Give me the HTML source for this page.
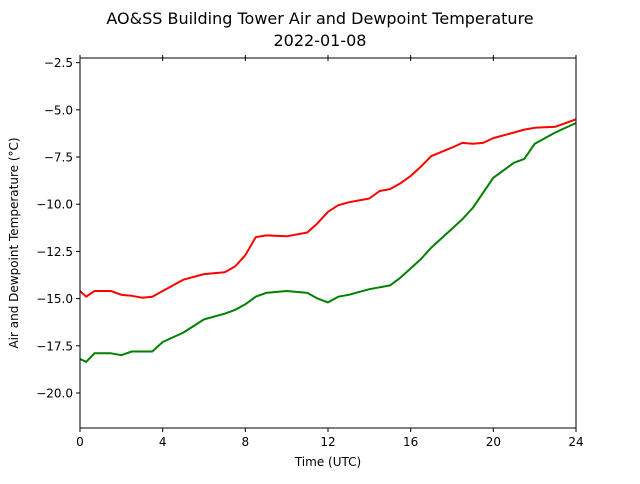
<!DOCTYPE html>
<html><head><meta charset="utf-8"><style>
body{margin:0;background:#fff;font-family:"DejaVu Sans","Liberation Sans",sans-serif}
svg text{font-family:"DejaVu Sans","Liberation Sans",sans-serif}
</style></head><body>
<svg id="c" width="640" height="480" xmlns="http://www.w3.org/2000/svg">
<text x="320" y="24" font-size="16" text-anchor="middle">AO&amp;SS Building Tower Air and Dewpoint Temperature</text>
<text x="320" y="46" font-size="16" text-anchor="middle">2022-01-08</text>
<text x="328" y="466" font-size="12" text-anchor="middle">Time (UTC)</text>
<text transform="translate(18,243) rotate(-90)" font-size="12" text-anchor="middle">Air and Dewpoint Temperature (°C)</text>
<g id="axes"></g>
<g id="series"></g>
<rect x="80" y="58" width="496" height="370" fill="none" stroke="#000" stroke-width="1"/>
</svg>
<script>
const hours=[0,0.3,0.7,1.5,2,2.5,3,3.5,4,5,6,7,7.5,8,8.5,9,10,11,11.5,12,12.5,13,14,14.5,15,15.5,16,16.5,17,18,18.5,19,19.5,20,21,21.5,22,23,24];
const airTemp=[-14.6,-14.9,-14.6,-14.6,-14.8,-14.85,-14.95,-14.9,-14.6,-14.0,-13.7,-13.6,-13.3,-12.7,-11.75,-11.65,-11.7,-11.5,-11.0,-10.4,-10.05,-9.9,-9.7,-9.3,-9.2,-8.9,-8.5,-8.0,-7.45,-7.0,-6.75,-6.8,-6.75,-6.5,-6.2,-6.05,-5.95,-5.9,-5.5];
const dewTemp=[-18.2,-18.35,-17.9,-17.9,-18.0,-17.8,-17.8,-17.8,-17.3,-16.8,-16.1,-15.8,-15.6,-15.3,-14.9,-14.7,-14.6,-14.7,-15.0,-15.2,-14.9,-14.8,-14.5,-14.4,-14.3,-13.9,-13.4,-12.9,-12.3,-11.3,-10.8,-10.2,-9.4,-8.6,-7.8,-7.6,-6.8,-6.2,-5.7];
const xTicks=[0,4,8,12,16,20,24];
const yTicks=[-2.5,-5.0,-7.5,-10.0,-12.5,-15.0,-17.5,-20.0];
const X0=80,X1=576,Y0=58,Y1=428,XMIN=0,XMAX=24,YMIN=-21.855,YMAX=-2.255;
const xs=v=>X0+(v-XMIN)/(XMAX-XMIN)*(X1-X0);
const ys=v=>Y1-(v-YMIN)/(YMAX-YMIN)*(Y1-Y0);
const NS="http://www.w3.org/2000/svg";
const ax=document.getElementById('axes'),se=document.getElementById('series');
function mk(t,a,p){const e=document.createElementNS(NS,t);for(const k in a)e.setAttribute(k,a[k]);p.appendChild(e);return e;}
xTicks.forEach(v=>{const x=xs(v);
 const t=mk('line',{x1:x,x2:x,y1:Y1,y2:Y1+4,stroke:'#000'},ax);
 
 
 const t2=mk('line',{x1:x,x2:x,y1:Y0-3,y2:Y0+3,stroke:'#000'},ax);
 
 
 const l=mk('text',{x:x,y:Y1+18,'font-size':12,'text-anchor':'middle'},ax);l.textContent=String(v);
 
 });
yTicks.forEach(v=>{const y=ys(v);
 const t=mk('line',{x1:X0-4,x2:X0,y1:y,y2:y,stroke:'#000'},ax);
 
 
 const l=mk('text',{x:X0-7,y:y+4.5,'font-size':12,'text-anchor':'end'},ax);l.textContent=(v<0?'\u2212':'')+Math.abs(v).toFixed(1);
 
 });
function line(arr,col,name){const d=arr.map((v,i)=>(i?'L':'M')+xs(hours[i]).toFixed(1)+','+ys(v).toFixed(1)).join('');
 const p=mk('path',{d:d,fill:'none',stroke:col,'stroke-width':2,'stroke-linejoin':'round'},se);
 
 }
line(airTemp,'#ff0000','air-temperature-line');
line(dewTemp,'#008000','dewpoint-temperature-line');
</script>
</body></html>
